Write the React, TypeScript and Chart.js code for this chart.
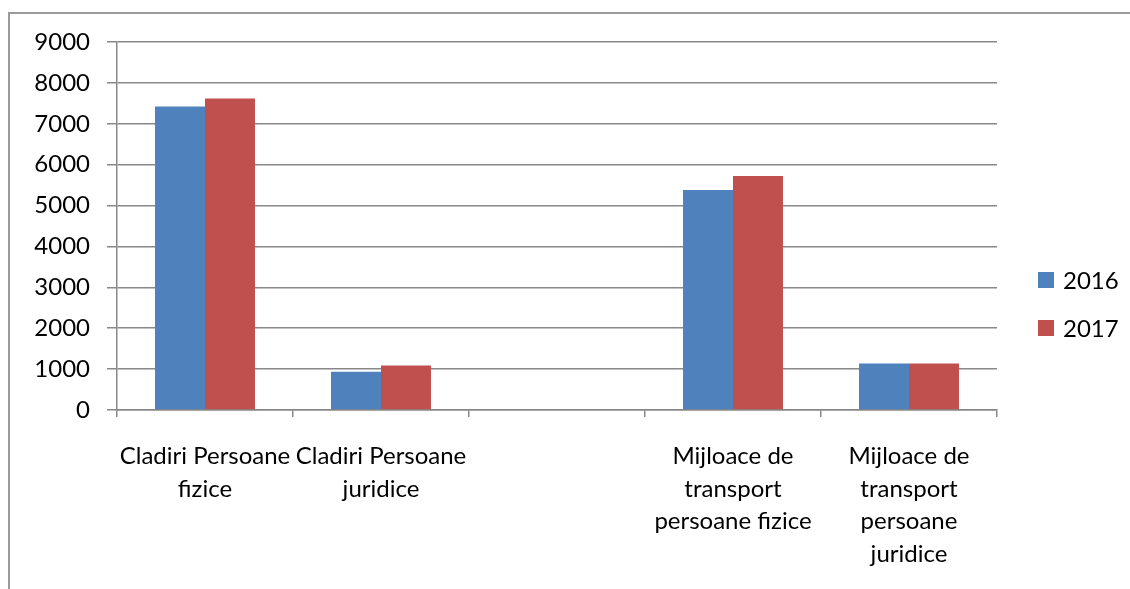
import React, { useEffect, useRef } from "react";
import { Chart, registerables } from "chart.js";

Chart.register(...registerables);

const categories: (string | string[])[] = [
  ["Cladiri Persoane", "fizice"],
  ["Cladiri Persoane", "juridice"],
  "",
  ["Mijloace de", "transport", "persoane fizice"],
  ["Mijloace de", "transport", "persoane", "juridice"],
];
const seriesLabels = ["2016", "2017"];
const values2016: (number | null)[] = [7425, 935, null, 5380, 1140];
const values2017: (number | null)[] = [7620, 1090, null, 5720, 1140];
const seriesColors = ["#4F81BD", "#C0504D"];
const yTicks = [0, 1000, 2000, 3000, 4000, 5000, 6000, 7000, 8000, 9000];

const FONT = "Lato, 'Open Sans', sans-serif";
const FONT_SIZE = 24;

const framePlugin = {
  id: "frame",
  beforeDraw(chart: any) {
    const ctx = chart.ctx;
    ctx.save();
    ctx.strokeStyle = "#9a9a9a";
    ctx.lineWidth = 2;
    ctx.beginPath();
    ctx.moveTo(9, chart.height);
    ctx.lineTo(9, 13);
    ctx.lineTo(chart.width, 13);
    ctx.stroke();
    ctx.restore();
  },
};

const legendPlugin = {
  id: "customLegend",
  afterDraw(chart: any) {
    const ctx = chart.ctx;
    const x = chart.chartArea.right + 41;
    const startY = 280;
    const step = 48;
    ctx.save();
    ctx.font = `${FONT_SIZE}px ${FONT}`;
    ctx.textBaseline = "middle";
    ctx.textAlign = "left";
    chart.data.datasets.forEach((ds: any, i: number) => {
      const cy = startY + i * step;
      ctx.fillStyle = ds.backgroundColor;
      ctx.fillRect(x, cy - 8, 16, 16);
      ctx.fillStyle = "#000";
      ctx.fillText(ds.label, x + 25, cy + 1);
    });
    ctx.restore();
  },
};

export default function App() {
  const ref = useRef<HTMLCanvasElement>(null);
  useEffect(() => {
    document.body.style.margin = "0";
    const chart = new Chart(ref.current!, {
      type: "bar",
      data: {
        labels: categories,
        datasets: [
          { label: seriesLabels[0], data: values2016, backgroundColor: seriesColors[0] },
          { label: seriesLabels[1], data: values2017, backgroundColor: seriesColors[1] },
        ],
      },
      options: {
        animation: false,
        responsive: false,
        devicePixelRatio: 1,
        layout: { padding: { left: 0, top: 42, right: 133, bottom: 0 } },
        datasets: { bar: { categoryPercentage: 0.568, barPercentage: 1 } },
        plugins: { legend: { display: false }, tooltip: { enabled: false } },
        scales: {
          x: {
            afterFit: (s: any) => { s.height = 179; },
            grid: { drawOnChartArea: false, drawTicks: true, tickLength: 7, color: "#888", lineWidth: 1.5, offset: true },
            border: { color: "#888", width: 1.5 },
            ticks: {
              color: "#000",
              padding: 23,
              maxRotation: 0,
              autoSkip: false,
              font: { family: FONT, size: FONT_SIZE, lineHeight: 1.36 },
            },
          },
          y: {
            min: 0,
            max: 9000,
            afterFit: (s: any) => { s.width = 117; },
            afterBuildTicks: (s: any) => { s.ticks = yTicks.map((v) => ({ value: v })); },
            grid: { color: "#888", lineWidth: 1.5, tickLength: 10 },
            border: { color: "#888", width: 1.5 },
            ticks: {
              color: "#000",
              padding: 17,
              callback: (v: any) => String(v),
              font: { family: FONT, size: FONT_SIZE },
            },
          },
        },
      },
      plugins: [framePlugin, legendPlugin],
    });
    return () => chart.destroy();
  }, []);
  return (
    <canvas
      ref={ref}
      width={1130}
      height={589}
      style={{ position: "absolute", left: 0, top: 0, width: 1130, height: 589 }}
    />
  );
}
